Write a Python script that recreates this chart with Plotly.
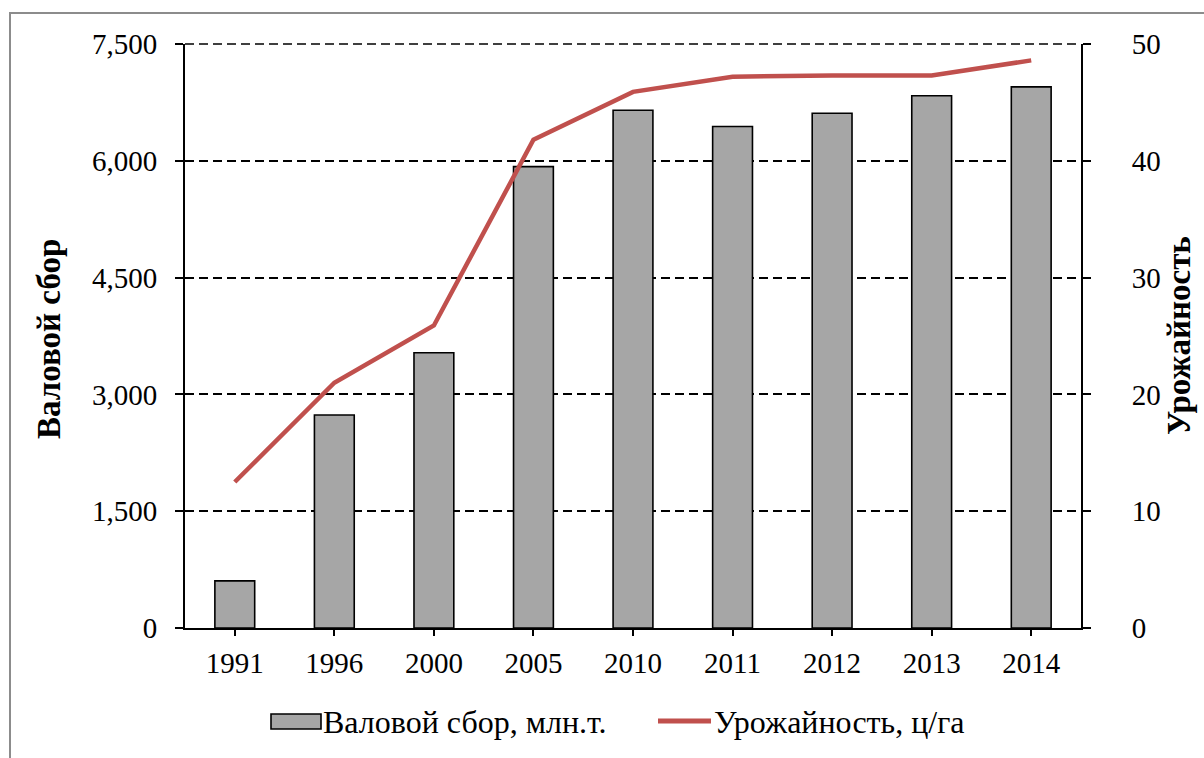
import plotly.graph_objects as go

years = ["1991", "1996", "2000", "2005", "2010", "2011", "2012", "2013", "2014"]
gross_harvest = [605, 2735, 3535, 5925, 6650, 6440, 6610, 6835, 6950]
yield_cha = [12.5, 21.0, 25.9, 41.8, 45.9, 47.2, 47.3, 47.3, 48.6]

left_ticks = [0, 1500, 3000, 4500, 6000, 7500]
right_ticks = [0, 10, 20, 30, 40, 50]

bar_name = "Валовой сбор, млн.т."
line_name = "Урожайность, ц/га"
BAR_COLOR = "#A6A6A6"
LINE_COLOR = "#C0504D"

FONT = "Liberation Serif, Times New Roman, serif"
W, H = 1204, 758
L, R, T, B = 185, 123, 44, 130
pw, ph = W - L - R, H - T - B


def px(x):
    return (x - L) / pw


def py(y):
    return (H - B - y) / ph


fig = go.Figure()
fig.add_trace(go.Bar(
    x=years, y=gross_harvest, name=bar_name,
    marker=dict(color=BAR_COLOR, line=dict(color="black", width=1.6)),
    yaxis="y", showlegend=False,
))
fig.add_trace(go.Scatter(
    x=years, y=yield_cha, name=line_name, mode="lines",
    line=dict(color=LINE_COLOR, width=4.5),
    yaxis="y2", showlegend=False,
))

tickfont = dict(family=FONT, size=29, color="black")

fig.update_layout(
    width=W, height=H,
    margin=dict(l=L, r=R, t=T, b=B, pad=0, autoexpand=False),
    paper_bgcolor="white", plot_bgcolor="white",
    bargap=0.6,
    xaxis=dict(
        type="category", showgrid=False, showline=True, linecolor="black", linewidth=2,
        ticks="outside", ticklen=6, tickwidth=2, tickcolor="black",
        tickfont=tickfont, ticklabelstandoff=2, zeroline=False,
    ),
    yaxis=dict(
        range=[0, 7500], tickvals=left_ticks, tickformat=",d",
        showline=True, linecolor="black", linewidth=2,
        ticks="outside", ticklen=8, tickwidth=2, tickcolor="black",
        showgrid=True, gridcolor="black", gridwidth=1.5, griddash="9px,5px",
        zeroline=False, tickfont=tickfont, ticklabelstandoff=12,
    ),
    yaxis2=dict(
        range=[0, 50], tickvals=right_ticks, overlaying="y", side="right",
        showline=True, linecolor="black", linewidth=2,
        ticks="outside", ticklen=8, tickwidth=2, tickcolor="black",
        showgrid=False, zeroline=False, tickfont=tickfont, ticklabelstandoff=35,
    ),
)

# top gridline at 7,500 (plotly hides the gridline on the plot edge)
fig.add_shape(type="line", xref="paper", yref="paper", x0=0, x1=1,
              y0=1, y1=1,
              line=dict(color="black", width=1.6, dash="9px,5px"))

fig.add_annotation(
    text="<b>Валовой сбор</b>", textangle=-90, xref="paper", yref="paper",
    x=px(49), y=py(339), xanchor="center", yanchor="middle",
    showarrow=False, font=dict(family=FONT, size=33, color="black"),
)
fig.add_annotation(
    text="<b>Урожайность</b>", textangle=-90, xref="paper", yref="paper",
    x=px(1179), y=py(336), xanchor="center", yanchor="middle",
    showarrow=False, font=dict(family=FONT, size=33, color="black"),
)

# legend (drawn as layout decoration)
legfont = dict(family=FONT, size=32, color="black")
fig.add_shape(type="rect", xref="paper", yref="paper",
              x0=px(271), x1=px(321), y0=py(729), y1=py(714),
              fillcolor=BAR_COLOR, line=dict(color="black", width=1.6))
fig.add_annotation(text=bar_name, xref="paper", yref="paper",
                   x=px(321), y=py(722), xanchor="left", yanchor="middle",
                   showarrow=False, font=legfont)
fig.add_shape(type="line", xref="paper", yref="paper",
              x0=px(658), x1=px(711), y0=py(721), y1=py(721),
              line=dict(color=LINE_COLOR, width=5))
fig.add_annotation(text=line_name, xref="paper", yref="paper",
                   x=px(712), y=py(722), xanchor="left", yanchor="middle",
                   showarrow=False, font=legfont)

# outer chart-area frame
fig.add_shape(
    type="rect", xref="paper", yref="paper", layer="below",
    x0=px(10), x1=px(1215), y0=py(770), y1=py(13),
    line=dict(color="#8C8C8C", width=2), fillcolor="rgba(0,0,0,0)",
)

fig.write_html("out.html", config={"displayModeBar": False},
               post_script="document.body.style.margin='0px';")
